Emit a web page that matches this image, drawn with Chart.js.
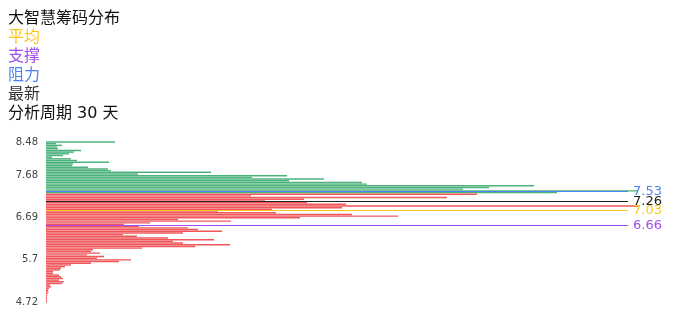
<!DOCTYPE html>
<html><head><meta charset="utf-8">
<script src="https://cdn.jsdelivr.net/npm/chart.js@4/dist/chart.umd.min.js"></script>
<style>
html,body{margin:0;padding:0;background:#fff;}
#wrap{position:relative;width:696px;height:320px;overflow:hidden;}
#info{position:absolute;left:8px;top:8px;font:16px 'DejaVu Sans','Noto Sans CJK SC',sans-serif;line-height:19px;color:#111;white-space:nowrap;}
canvas{position:absolute;left:0;top:0;}
</style></head><body>
<div id="wrap"><canvas id="c" width="696" height="320"></canvas><div id="info"></div></div>
<script>
const title = '大智慧筹码分布';
const periodText = '分析周期 30 天';
// price levels, top (high) to bottom (low)
const prices = [8.48,8.44,8.40,8.36,8.32,8.28,8.24,8.20,8.16,8.12,8.08,8.04,8.00,7.96,7.92,7.88,7.84,7.80,7.76,7.72,
7.68,7.64,7.60,7.56,7.53,7.49,7.45,7.41,7.37,7.33,7.29,7.25,7.21,7.17,7.13,7.09,7.05,7.01,6.97,6.93,
6.89,6.85,6.81,6.77,6.73,6.69,6.65,6.61,6.58,6.54,6.50,6.46,6.42,6.38,6.34,6.30,6.26,6.22,6.18,6.14,
6.10,6.06,6.02,5.98,5.94,5.90,5.86,5.82,5.78,5.74,5.70,5.66,5.63,5.59,5.55,5.51,5.47,5.43,5.39,5.35,
5.31,5.27,5.23,5.19,5.15,5.11,5.07,5.03,4.99,4.95,4.91,4.87,4.83,4.79,4.75,4.72];
// chip volume at each price level (same order)
const chips = [69,10,16,11,12,35,28,23,17,6,25,31,63,27,26,42,62,65,165,92,
241,206,278,243,316,321,488,443,417,592,511,
431,205,401,258,219,261,300,592,296,226,172,230,306,352,254,132,185,104,78,
93,142,152,176,137,77,91,122,168,127,137,184,149,96,47,45,54,41,58,51,
85,73,45,25,19,15,14,7,7,13,15,17,13,18,16,4,5,3,2,2.5,1.5,1,1,1,1,1];
const tickLabels = [8.48, 7.68, 6.69, 5.7, 4.72];
const markerNames = ['平均', '支撑', '阻力', '最新'];
const markerValues = [7.03, 6.66, 7.53, 7.26];
const markerColors = ['#ffc61a', '#a04cf0', '#4f83f5', '#222222'];
const latestPrice = 7.26;

const info = document.getElementById('info');
const lines = [[title, '#111']];
markerNames.forEach((n, i) => lines.push([n, i === 3 ? '#333' : markerColors[i]]));
lines.push([periodText, '#111']);
lines.forEach(([t, c]) => { const d = document.createElement('div'); d.textContent = t; d.style.color = c; info.appendChild(d); });

const markPlugin = {
  id: 'marks',
  afterDatasetsDraw(chart) {
    const { ctx, chartArea: a } = chart;
    const s = chart.scales.y2;
    ctx.save();
    ctx.font = "13px 'DejaVu Sans'";
    ctx.textBaseline = 'middle';
    ctx.textAlign = 'left';
    markerValues.forEach((v, i) => {
      const y = Math.floor(s.getPixelForValue(v)) + 0.5;
      ctx.strokeStyle = markerColors[i];
      ctx.lineWidth = 1;
      ctx.beginPath(); ctx.moveTo(a.left, y); ctx.lineTo(a.right, y); ctx.stroke();
      ctx.fillStyle = markerColors[i];
      ctx.fillText(v.toFixed(2), a.right + 5, y);
    });
    ctx.restore();
  }
};

new Chart(document.getElementById('c'), {
  type: 'bar',
  data: {
    labels: prices,
    datasets: [{
      data: chips,
      backgroundColor: prices.map(p => p > latestPrice ? 'rgba(45,165,100,0.85)' : 'rgba(235,50,55,0.82)'),
      borderWidth: 0,
      barPercentage: 0.85,
      categoryPercentage: 1,
      clip: false
    }]
  },
  options: {
    indexAxis: 'y',
    responsive: false,
    animation: false,
    devicePixelRatio: 1,
    layout: { padding: { top: 142, right: 68, bottom: 18, left: 0 } },
    plugins: { legend: { display: false }, tooltip: { enabled: false } },
    scales: {
      x: { type: 'linear', min: 0, max: 582, display: false },
      y: {
        type: 'category', offset: false,
        grid: { display: false, drawTicks: false }, border: { display: false },
        ticks: {
          autoSkip: false, padding: 8, color: '#444',
          font: { family: 'DejaVu Sans', size: 10 },
          callback: (v, i) => tickLabels.includes(prices[i]) ? String(prices[i]) : ''
        },
        afterFit: s => { s.width = 46; }
      },
      y2: {
        type: 'linear', axis: 'y', position: 'left', display: true, offset: false,
        min: 4.70, max: 8.79,
        grid: { display: false, drawTicks: false, offset: false }, border: { display: false },
        ticks: { display: false },
        afterFit: s => { s.width = 0; }
      }
    }
  },
  plugins: [markPlugin]
});
</script>
</body></html>
